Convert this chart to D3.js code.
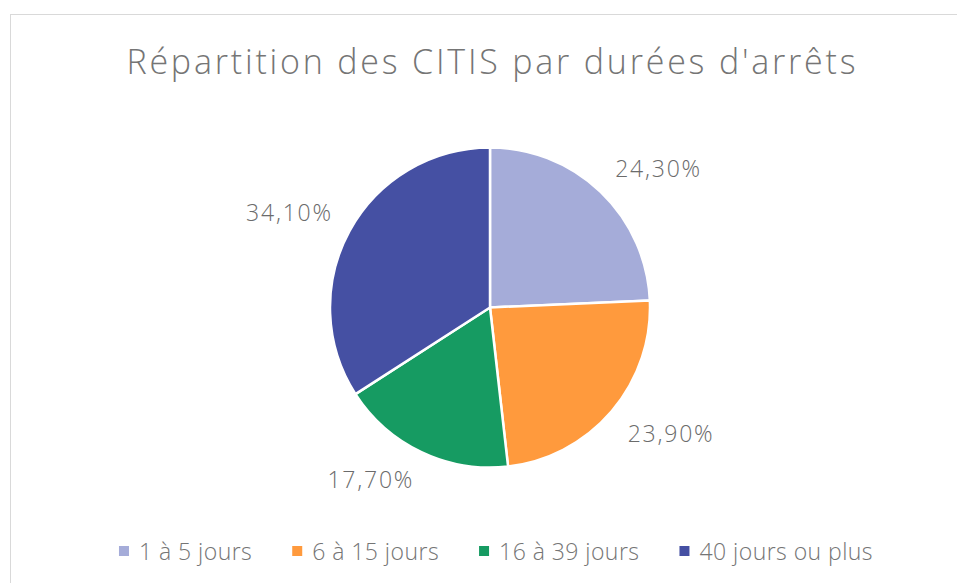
<!DOCTYPE html>
<html><head><meta charset="utf-8">
<script src="https://cdn.jsdelivr.net/npm/d3@7"></script>
<style>body{margin:0;background:#fff;}svg{display:block;font-family:"Open Sans","Noto Sans",sans-serif;font-weight:300;}</style>
</head><body>
<svg id="c" width="957" height="583"></svg>
<script>
const title = "Répartition des CITIS par durées d'arrêts";
const categories = ["1 à 5 jours", "6 à 15 jours", "16 à 39 jours", "40 jours ou plus"];
const values = [24.3, 23.9, 17.7, 34.1];
const labels = ["24,30%", "23,90%", "17,70%", "34,10%"];
const colors = ["#a5acd9", "#ff9a3d", "#169b62", "#4550a3"];

const svg = d3.select("#c");
svg.append("rect").attr("x", 10.5).attr("y", 14.5).attr("width", 960).attr("height", 600)
  .attr("fill", "#fff").attr("stroke", "#d9d9d9").attr("stroke-width", 1);

const t = svg.append("text").attr("x", 491).attr("y", 74).attr("text-anchor", "middle")
  .attr("font-size", 34).attr("fill", "#757575").text(title);
const tw = t.node().getComputedTextLength();
const ls = (732 - tw) / title.length;
t.style("letter-spacing", ls + "px").attr("x", 491 + ls / 2);

const cx = 490, cy = 307.5, r = 160;
const g = svg.append("g").attr("transform", `translate(${cx},${cy})`);
const pie = d3.pie().sort(null).value(d => d)(values);
const arc = d3.arc().innerRadius(0).outerRadius(r);
g.selectAll("path").data(pie).join("path")
  .attr("d", arc).attr("fill", (d, i) => colors[i])
  .attr("stroke", "#fff").attr("stroke-width", 2.5).attr("stroke-linejoin", "round");

const lr = 181;
g.selectAll("text.lbl").data(pie).join("text").attr("class", "lbl")
  .each(function(d, i) {
    const a = (d.startAngle + d.endAngle) / 2;
    const s = Math.sin(a), c = Math.cos(a);
    const x = lr * s, y = -lr * c;
    d3.select(this).attr("x", s >= 0 ? x : x + 1.8).attr("y", c > 0 ? y : y + 17)
      .attr("text-anchor", s >= 0 ? "start" : "end")
      .style("letter-spacing", "1.8px")
      .attr("font-size", 23).attr("fill", "#6b6b6b").text(labels[i]);
  });

// legend
const lg = svg.append("g");
const items = lg.selectAll("g").data(categories).join("g");
items.append("rect").attr("width", 10).attr("height", 10).attr("y", -14)
  .attr("fill", (d, i) => colors[i]);
items.append("text").attr("x", 20).attr("y", 0).style("letter-spacing", "0.45px")
  .attr("font-size", 23).attr("fill", "#757575").text(d => d);
let xpos = 0;
const gap = 40;
items.each(function() {
  const w = 20 + d3.select(this).select("text").node().getComputedTextLength();
  d3.select(this).attr("transform", `translate(${xpos},0)`);
  xpos += w + gap;
});
const total = xpos - gap;
lg.attr("transform", `translate(${496 - total / 2},${560})`);
</script>
</body></html>
